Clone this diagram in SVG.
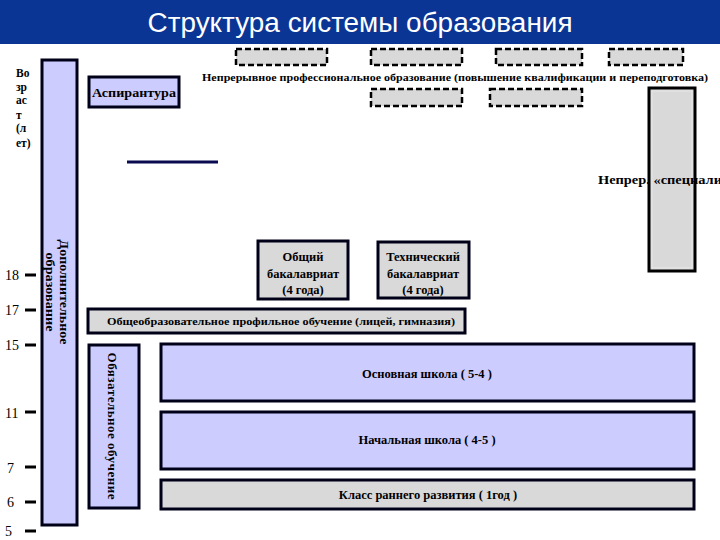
<svg xmlns="http://www.w3.org/2000/svg" width="720" height="540" viewBox="0 0 720 540">
<style>
.t{font-family:"Liberation Serif","Times New Roman","DejaVu Serif",serif;font-weight:bold;fill:#000}
.age{font-family:"Liberation Serif","Times New Roman","DejaVu Serif",serif;font-size:14px;fill:#000}
.blue{fill:#ccccff;stroke:#000018;stroke-width:3}
.gray{fill:#d9d9d9;stroke:#000018;stroke-width:3}
.dash{fill:#d9d9d9;stroke:#000;stroke-width:2.5;stroke-dasharray:6 3}
.tick{stroke:#000;stroke-width:3}
</style>
<rect width="720" height="540" fill="#fff"/>
<g id="title">
<rect x="0" y="0" width="720" height="44" fill="#0a3595"/>
<text x="360" y="32" text-anchor="middle" font-family="'Liberation Sans',Arial,sans-serif" font-size="27" fill="#fff" textLength="425" lengthAdjust="spacingAndGlyphs">Структура системы образования</text>
</g>
<g id="age-axis">
<text class="t" font-size="11.5"><tspan x="16" y="77">Во</tspan><tspan x="16" y="91">зр</tspan><tspan x="16" y="104">ас</tspan><tspan x="16" y="119">т</tspan><tspan x="16" y="132">(л</tspan><tspan x="16" y="147">ет)</tspan></text>
<text class="age" x="5" y="280">18</text>
<text class="age" x="5" y="315">17</text>
<text class="age" x="5" y="350">15</text>
<text class="age" x="5" y="418">11</text>
<text class="age" x="7" y="473">7</text>
<text class="age" x="7" y="507">6</text>
<text class="age" x="5" y="536">5</text>
<line class="tick" x1="25" y1="275" x2="36" y2="275"/>
<line class="tick" x1="25" y1="310" x2="36" y2="310"/>
<line class="tick" x1="25" y1="345" x2="36" y2="345"/>
<line class="tick" x1="25" y1="412" x2="36" y2="412"/>
<line class="tick" x1="25" y1="467" x2="36" y2="467"/>
<line class="tick" x1="25" y1="502" x2="36" y2="502"/>
<line class="tick" x1="25" y1="531" x2="36" y2="531"/>
</g>
<g id="dop-obrazovanie">
<rect class="blue" x="42" y="60" width="35" height="465"/>
<text class="t" font-size="13" text-anchor="middle" transform="translate(60,292) rotate(90)" x="0" y="0" textLength="105" lengthAdjust="spacingAndGlyphs">Дополнительное</text>
<text class="t" font-size="13" text-anchor="middle" transform="translate(46,292) rotate(90)" x="0" y="0" textLength="79" lengthAdjust="spacingAndGlyphs">образование</text>
</g>
<g id="aspirantura">
<rect class="blue" x="89" y="77" width="90" height="30"/>
<text class="t" font-size="13" x="134" y="97" text-anchor="middle" textLength="84" lengthAdjust="spacingAndGlyphs">Аспирантура</text>
</g>
<g id="nepreryvnoe">
<rect class="dash" x="236" y="49" width="91" height="16"/>
<rect class="dash" x="371" y="49" width="91" height="16"/>
<rect class="dash" x="496" y="49" width="86" height="16"/>
<rect class="dash" x="609" y="49" width="74" height="16"/>
<rect class="dash" x="371" y="89" width="91" height="17"/>
<rect class="dash" x="490" y="89" width="92" height="17"/>
<text class="t" font-size="11" x="202" y="81" textLength="506" lengthAdjust="spacingAndGlyphs">Непрерывное профессиональное образование (повышение квалификации и переподготовка)</text>
</g>
<g id="specialist">
<rect x="649" y="88" width="46" height="183" fill="#d9d9d9" stroke="#000" stroke-width="3"/>
<rect x="652" y="91" width="40" height="177" fill="none" stroke="#e8e8e8" stroke-width="1"/>
<text class="t" font-size="12" x="598" y="184" textLength="124" lengthAdjust="spacingAndGlyphs">Непрер. «специали</text>
</g>
<g id="bak-obshiy">
<rect class="gray" x="258" y="241" width="90" height="58"/>
<text class="t" font-size="12.5" text-anchor="middle"><tspan x="303" y="261">Общий</tspan><tspan x="303" y="278">бакалавриат</tspan><tspan x="303" y="294">(4 года)</tspan></text>
</g>
<g id="bak-tech">
<rect class="gray" x="378" y="242" width="91" height="56"/>
<text class="t" font-size="12.5" text-anchor="middle"><tspan x="423" y="261">Технический</tspan><tspan x="423" y="278">бакалавриат</tspan><tspan x="423" y="294">(4 года)</tspan></text>
</g>
<g id="profil">
<rect class="gray" x="88" y="309" width="377" height="24"/>
<text class="t" font-size="10.5" x="107" y="325" textLength="348" lengthAdjust="spacingAndGlyphs">Общеобразовательное профильное обучение (лицей, гимназия)</text>
</g>
<g id="obyazatelnoe">
<rect class="blue" x="89" y="345" width="50" height="163"/>
<text class="t" font-size="13" text-anchor="middle" transform="translate(108,426) rotate(90)" x="0" y="0" textLength="147" lengthAdjust="spacing">Обязательное обучение</text>
</g>
<g id="osnovnaya">
<rect class="blue" x="161" y="344" width="533" height="57"/>
<text class="t" font-size="12.5" x="427" y="378" text-anchor="middle">Основная школа ( 5-4 )</text>
</g>
<g id="nachalnaya">
<rect class="blue" x="161" y="412" width="533" height="57"/>
<text class="t" font-size="12.5" x="427" y="444" text-anchor="middle">Начальная школа ( 4-5 )</text>
</g>
<g id="rannego">
<rect class="gray" x="161" y="480" width="533" height="29"/>
<text class="t" font-size="12.5" x="428" y="499" text-anchor="middle">Класс раннего развития ( 1год )</text>
</g>
<g id="connectors">
<line x1="127" y1="162" x2="218" y2="162" stroke="#0a0a50" stroke-width="3"/>
</g>
</svg>
